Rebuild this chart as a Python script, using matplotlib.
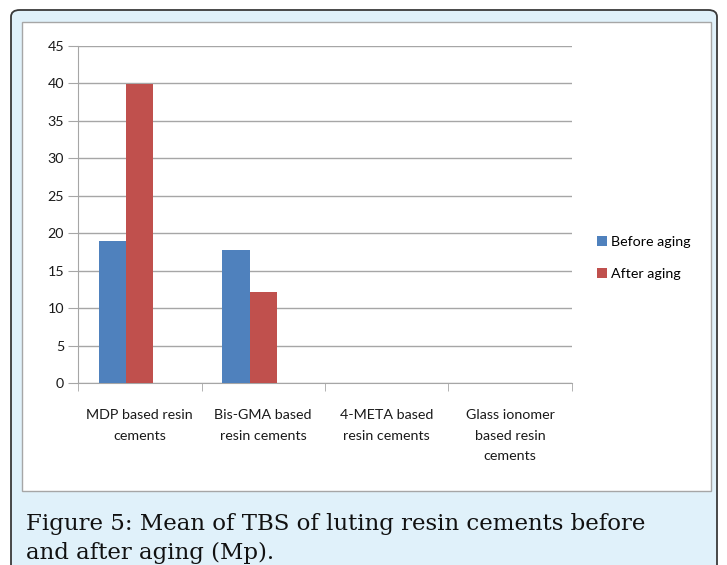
import matplotlib
matplotlib.use("Agg")
import matplotlib.pyplot as plt
from matplotlib.patches import FancyBboxPatch, Rectangle
from matplotlib import font_manager
import numpy as np

categories = ["MDP based resin\ncements", "Bis-GMA based\nresin cements",
              "4-META based\nresin cements", "Glass ionomer\nbased resin\ncements"]
before_aging = [19.0, 17.7, 0, 0]
after_aging = [39.9, 12.1, 0, 0]
series_names = ["Before aging", "After aging"]
y_ticks = [0, 5, 10, 15, 20, 25, 30, 35, 40, 45]
caption_lines = ["Figure 5: Mean of TBS of luting resin cements before",
                 "and after aging (Mp)."]

W, H = 727, 565
fig = plt.figure(figsize=(W / 100, H / 100), dpi=100)
fig.patch.set_facecolor("white")

def fx(px):
    return px / W

def fy(py):
    return 1 - py / H

names = {f.name for f in font_manager.fontManager.ttflist}
font = "Liberation Sans Narrow" if "Liberation Sans Narrow" in names else "Lato"
fsize = 11.5 if font == "Liberation Sans Narrow" else 10.3

outer = FancyBboxPatch((fx(11), fy(575)), fx(706), 565 / H,
                       boxstyle="round,pad=0,rounding_size=0.012",
                       transform=fig.transFigure, facecolor="#e0f1fa",
                       edgecolor="#3a3a3a", linewidth=1.3, zorder=0)
fig.patches.append(outer)
inner = Rectangle((fx(22), fy(491)), fx(689), (491 - 22) / H,
                  transform=fig.transFigure, facecolor="white",
                  edgecolor="#a6a6a6", linewidth=1.0, zorder=1)
fig.patches.append(inner)

ax = fig.add_axes([fx(78), fy(383), fx(572 - 78), (383 - 46) / H])
ax.set_zorder(2)
ax.patch.set_alpha(0)

blue = "#4f81bd"
red = "#c0504d"
x = np.arange(len(categories))
bw = 0.22
ax.bar(x - bw, before_aging, width=bw, color=blue, label=series_names[0], zorder=3)
ax.bar(x, after_aging, width=bw, color=red, label=series_names[1], zorder=3)

ax.set_xlim(-0.5, 3.5)
ax.set_ylim(0, 45)
ax.set_yticks(y_ticks)
ax.yaxis.grid(True, color="#a6a6a6", linewidth=1.0, zorder=0)
ax.set_axisbelow(True)
for s in ["top", "right"]:
    ax.spines[s].set_visible(False)
ax.spines["left"].set_color("#a6a6a6")
ax.spines["bottom"].set_color("#a6a6a6")
ax.tick_params(axis="y", length=7, color="#a6a6a6", pad=3, labelsize=fsize, labelcolor="#1a1a1a")
for lab in ax.get_yticklabels():
    lab.set_family(font)

ax.set_xticks(x)
ax.set_xticklabels(categories, fontsize=fsize, family=font, color="#1a1a1a", linespacing=1.85, va="top")
ax.tick_params(axis="x", which="major", length=0, pad=19)
ax.set_xticks(np.arange(-0.5, 4.0, 1.0), minor=True)
ax.tick_params(axis="x", which="minor", length=6, color="#a6a6a6", direction="out")

leg = fig.legend(handles=ax.containers, labels=series_names, loc="upper left",
                 bbox_to_anchor=(fx(591), fy(230)), frameon=False,
                 prop={"family": font, "size": fsize}, handlelength=0.7, handleheight=0.7,
                 handletextpad=0.3, labelspacing=1.45, borderaxespad=0)

for i, line in enumerate(caption_lines):
    fig.text(fx(26), fy(530 + 29 * i), line, fontsize=16.5, family="DejaVu Serif",
             color="#111111", va="baseline", ha="left")

fig.savefig("out.png", dpi=100)
